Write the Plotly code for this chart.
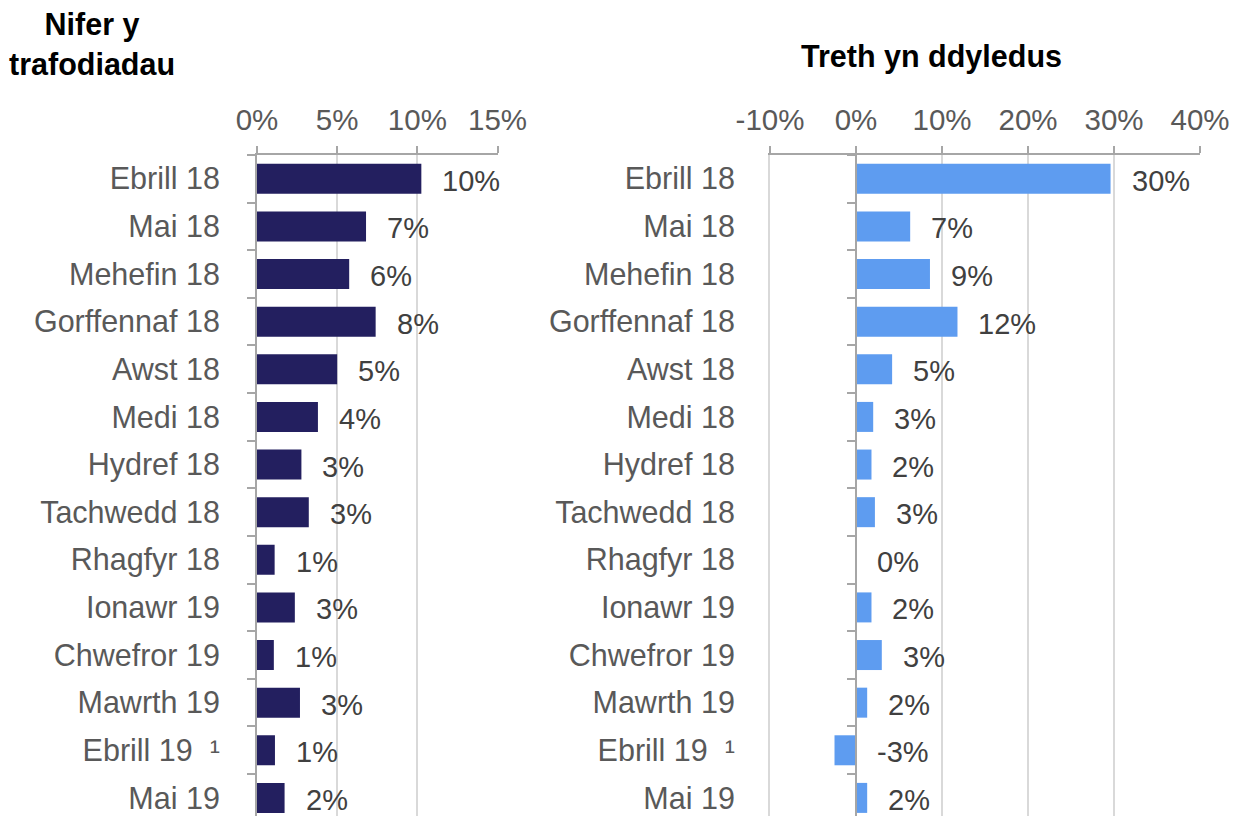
import plotly.graph_objects as go

months = [
    "Ebrill 18", "Mai 18", "Mehefin 18", "Gorffennaf 18", "Awst 18", "Medi 18",
    "Hydref 18", "Tachwedd 18", "Rhagfyr 18", "Ionawr 19", "Chwefror 19",
    "Mawrth 19", "Ebrill 19 \u00a0¹", "Mai 19",
]

# Nifer y trafodiadau (% change)
transactions = [10.25, 6.8, 5.75, 7.4, 5.0, 3.8, 2.77, 3.23, 1.1, 2.36, 1.05, 2.68, 1.12, 1.72]
transactions_labels = ["10%", "7%", "6%", "8%", "5%", "4%", "3%", "3%", "1%", "3%", "1%", "3%", "1%", "2%"]

# Treth yn ddyledus (% change)
tax_due = [29.6, 6.3, 8.6, 11.8, 4.2, 2.0, 1.8, 2.2, 0.0, 1.8, 3.0, 1.3, -2.5, 1.3]
tax_due_labels = ["30%", "7%", "9%", "12%", "5%", "3%", "2%", "3%", "0%", "2%", "3%", "2%", "-3%", "2%"]

left_ticks = [0, 5, 10, 15]
right_ticks = [-10, 0, 10, 20, 30, 40]

# the page body adds an 8px margin, so the figure is a little smaller than the window
OFF = 8
W, H = 1239 - OFF, 816 - OFF
TOP = 155 - OFF
NAVY = "#231f5f"
BLUE = "#5e9cf0"
GRID = "#d9d9d9"
AXIS = "#a6a6a6"
FAMILY = "Liberation Sans, Arial, sans-serif"
XTICK_FONT = dict(family=FAMILY, size=29.5, color="#595959")
YTICK_FONT = dict(family=FAMILY, size=30.5, color="#595959")
LABEL_FONT = dict(family=FAMILY, size=29, color="#404040")
TITLE_FONT = dict(family=FAMILY, size=30.5, color="#000000")

left_dom = [(257 - OFF) / W, (497.5 - OFF) / W]
right_dom = [(770 - OFF) / W, (1200 - OFF) / W]
# paper position of the 0% line on the right panel
zero_pos = right_dom[0] + (0 - right_ticks[0]) / (right_ticks[-1] - right_ticks[0]) * (right_dom[1] - right_dom[0])

y_range = [13.38, -0.5]

fig = go.Figure()
fig.add_trace(go.Bar(
    x=transactions, y=months, orientation="h", marker=dict(color=NAVY, line=dict(width=0)),
    xaxis="x", yaxis="y", showlegend=False, hoverinfo="x+y",
))
fig.add_trace(go.Bar(
    x=tax_due, y=months, orientation="h", marker=dict(color=BLUE, line=dict(width=0)),
    xaxis="x2", yaxis="y2", showlegend=False, hoverinfo="x+y",
))
# invisible trace so the 0% axis of the right panel gets its category ticks
fig.add_trace(go.Scatter(
    x=[0] * len(months), y=months, mode="markers", marker=dict(opacity=0),
    xaxis="x2", yaxis="y3", showlegend=False, hoverinfo="skip",
))

annotations = []
for m, v, t in zip(months, transactions, transactions_labels):
    annotations.append(dict(x=max(v, 0), y=m, xref="x", yref="y", text=t, showarrow=False,
                            xanchor="left", xshift=19, yshift=-2, font=LABEL_FONT))
for m, v, t in zip(months, tax_due, tax_due_labels):
    annotations.append(dict(x=max(v, 0), y=m, xref="x2", yref="y2", text=t, showarrow=False,
                            xanchor="left", xshift=19, yshift=-2, font=LABEL_FONT))

annotations.append(dict(x=(92 - OFF) / W, y=1 + (155 - 44) / (H - TOP), xref="paper", yref="paper",
                        text="<b>Nifer y<br>trafodiadau</b>", showarrow=False, align="center",
                        xanchor="center", yanchor="middle", font=TITLE_FONT))
annotations.append(dict(x=(931 - OFF) / W, y=1 + (155 - 57) / (H - TOP), xref="paper", yref="paper",
                        text="<b>Treth yn ddyledus</b>", showarrow=False,
                        xanchor="center", yanchor="middle", font=TITLE_FONT))

x_common = dict(side="top", showgrid=True, gridcolor=GRID, gridwidth=2, zeroline=False,
                showline=True, linecolor=AXIS, linewidth=2, ticks="outside", ticklen=7,
                tickcolor=AXIS, tickwidth=2, tickfont=XTICK_FONT, ticklabelstandoff=4,
                automargin=False, fixedrange=True)
y_common = dict(type="category", categoryorder="array", categoryarray=months, range=y_range,
                showgrid=False, zeroline=False, tickson="boundaries", automargin=False,
                fixedrange=True)

fig.update_layout(
    width=W,
    height=H,
    margin=dict(l=0, r=0, t=TOP, b=0, autoexpand=False),
    paper_bgcolor="white",
    plot_bgcolor="white",
    bargap=0.37,
    xaxis=dict(domain=left_dom, range=[left_ticks[0], left_ticks[-1]], tickvals=left_ticks,
               ticktext=[f"{v}%" for v in left_ticks], anchor="y", **x_common),
    xaxis2=dict(domain=right_dom, range=[right_ticks[0], right_ticks[-1]], tickvals=right_ticks,
                ticktext=[f"{v}%" for v in right_ticks], anchor="y2", **x_common),
    yaxis=dict(anchor="x", showline=True, linecolor=AXIS, linewidth=2, ticks="outside",
               ticklen=8, tickcolor=AXIS, tickwidth=2, tickfont=YTICK_FONT,
               ticklabelstandoff=29, **y_common),
    yaxis2=dict(anchor="x2", showline=True, linecolor=GRID, linewidth=2, ticks="outside",
                ticklen=8, tickcolor="rgba(0,0,0,0)", tickfont=YTICK_FONT,
                ticklabelstandoff=27, **y_common),
    yaxis3=dict(overlaying="y2", anchor="free", position=zero_pos, side="left", showline=True,
                linecolor=AXIS, linewidth=2, ticks="outside", ticklen=8, tickcolor=AXIS,
                tickwidth=2, showticklabels=False, **y_common),
    annotations=annotations,
)

fig.write_html("out.html")
